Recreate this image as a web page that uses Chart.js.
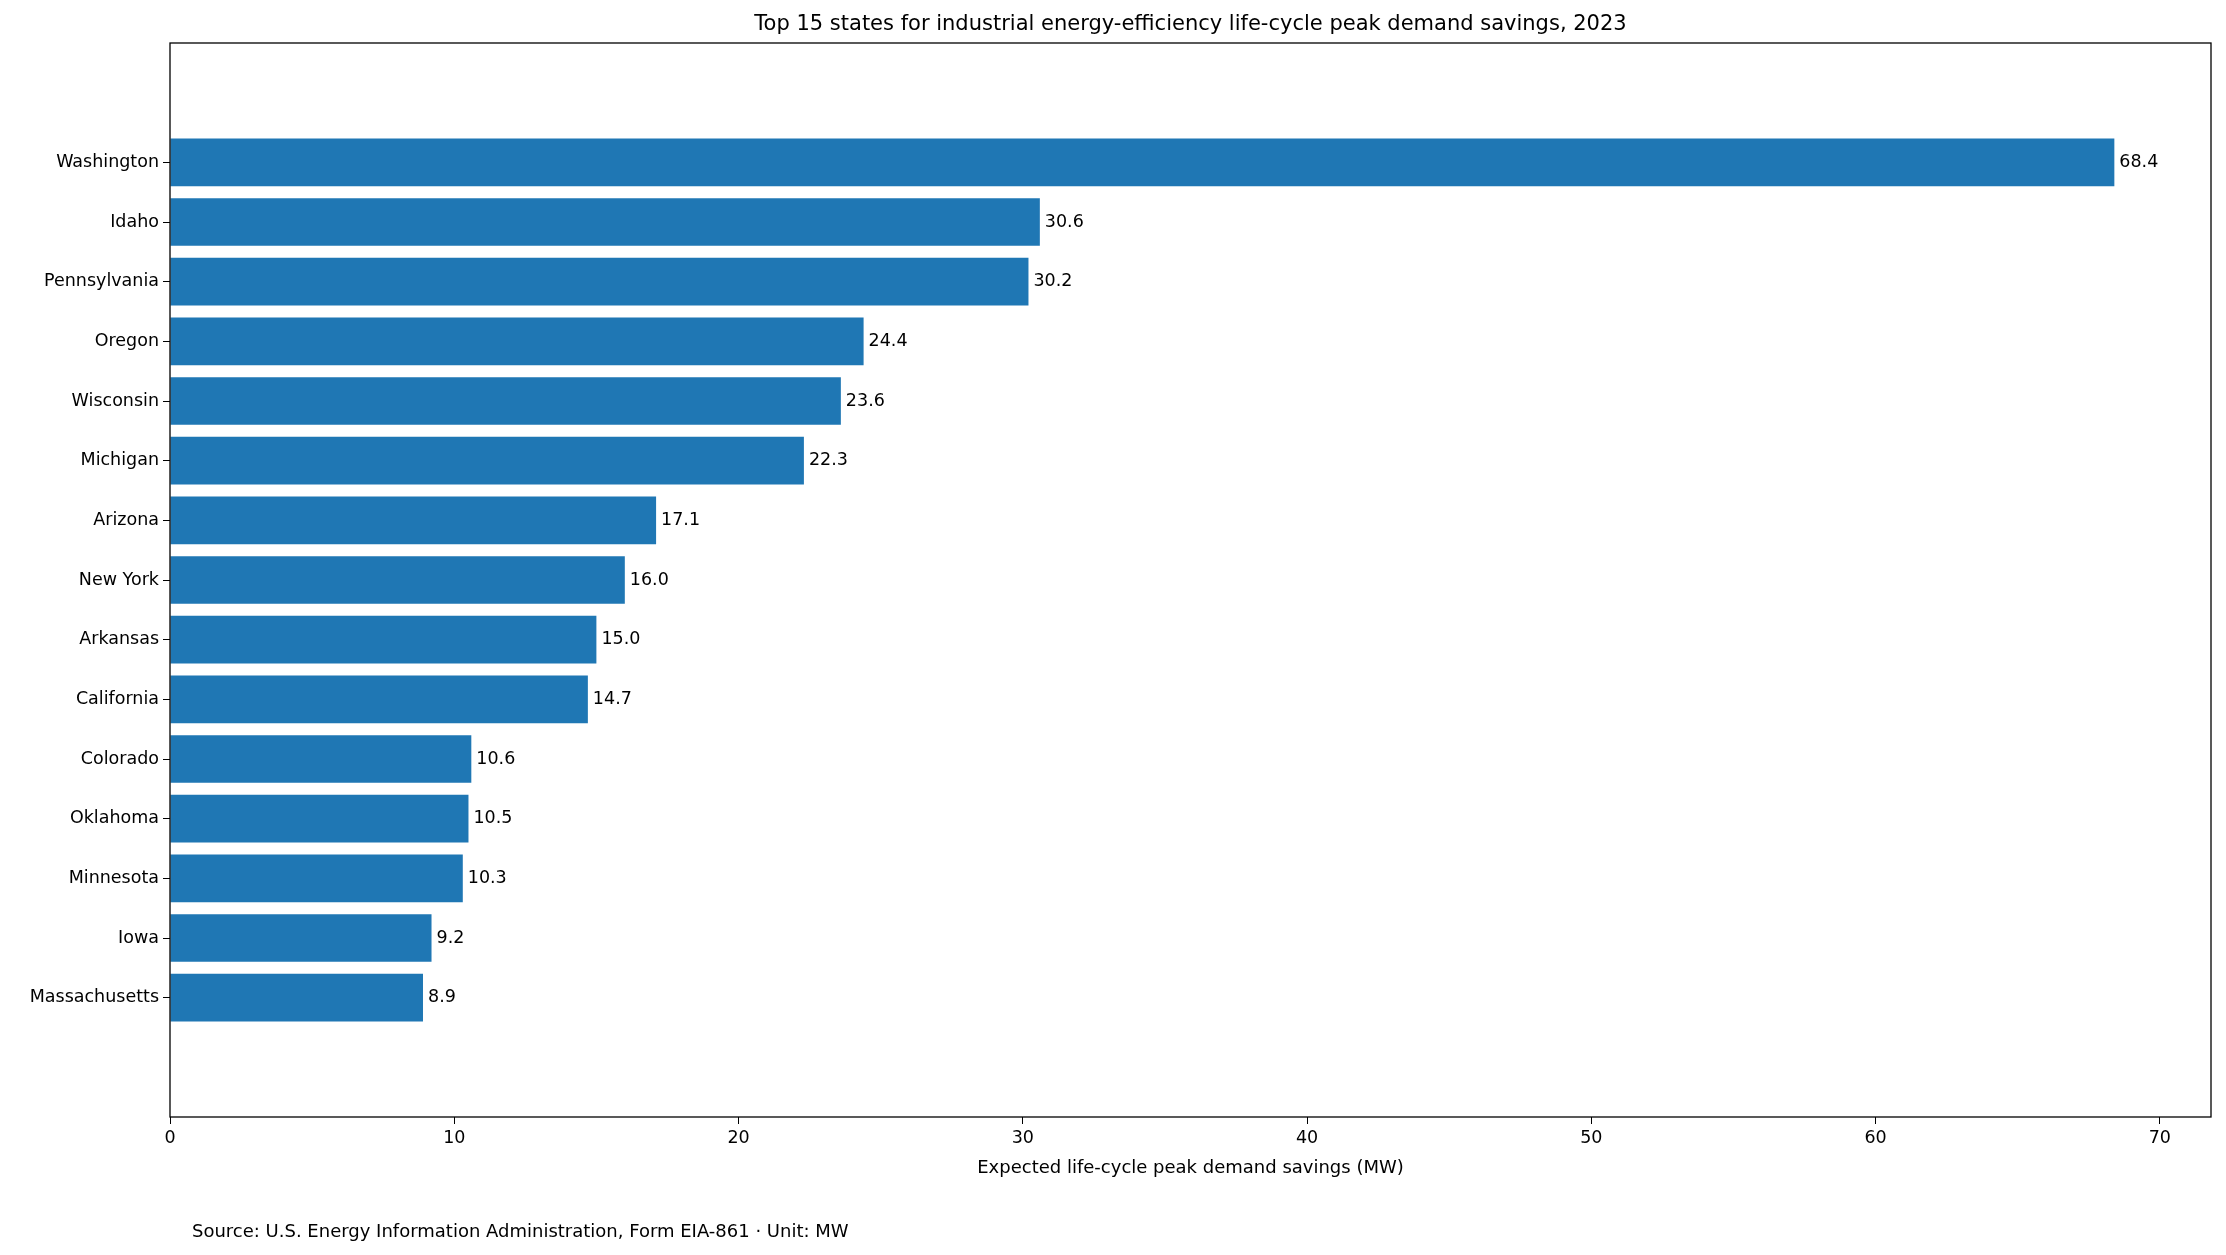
<!DOCTYPE html>
<html><head><meta charset="utf-8">
<script src="https://cdn.jsdelivr.net/npm/chart.js@4/dist/chart.umd.min.js"></script>
<style>html,body{margin:0;padding:0;background:#fff}#w{width:2226px;height:1255px}</style>
</head><body><div id="w"><canvas id="c"></canvas></div>
<script>
const states = ["Washington","Idaho","Pennsylvania","Oregon","Wisconsin","Michigan","Arizona","New York","Arkansas","California","Colorado","Oklahoma","Minnesota","Iowa","Massachusetts"];
const savings = [68.4,30.6,30.2,24.4,23.6,22.3,17.1,16.0,15.0,14.7,10.6,10.5,10.3,9.2,8.9];
const xTicks = [0,10,20,30,40,50,60,70];
const titleText = "Top 15 states for industrial energy-efficiency life-cycle peak demand savings, 2023";
const xTitle = "Expected life-cycle peak demand savings (MW)";
const sourceText = "Source: U.S. Energy Information Administration, Form EIA-861 · Unit: MW";
const F = "'DejaVu Sans', sans-serif";

const deco = {
  id:'deco',
  afterDatasetsDraw(ch){
    const {ctx, chartArea:a} = ch;
    ctx.save();
    ctx.fillStyle='#000'; ctx.font='17.5px '+F; ctx.textBaseline='middle'; ctx.textAlign='left';
    const meta = ch.getDatasetMeta(0);
    meta.data.forEach((b,i)=>{ ctx.fillText(savings[i].toFixed(1), b.x+5, b.y); });
    ctx.strokeStyle='#000'; ctx.lineWidth=1.3;
    ctx.strokeRect(a.left, a.top, a.right-a.left, a.bottom-a.top);
    ctx.textAlign='center'; ctx.textBaseline='middle';
    ctx.font='21px '+F; ctx.fillText(titleText, (a.left+a.right)/2, 25);
    ctx.font='18px '+F; ctx.fillText(xTitle, (a.left+a.right)/2, 1168);
    ctx.textAlign='left'; ctx.fillText(sourceText, 192, 1232);
    ctx.restore();
  }
};

new Chart(document.getElementById('c'), {
  type:'bar',
  data:{ datasets:[{ data: savings.map((v,i)=>({x:v,y:i})), backgroundColor:'#1f77b4', barPercentage:0.8, categoryPercentage:1.0 }]},
  options:{
    indexAxis:'y', responsive:true, maintainAspectRatio:false, animation:false,
    layout:{padding:{top:43,right:15,left:0,bottom:0}},
    plugins:{legend:{display:false}, tooltip:{enabled:false}},
    scales:{
      x:{ type:'linear', min:0, max:71.8,
        afterBuildTicks(s){ s.ticks = xTicks.map(v=>({value:v})); },
        afterFit(s){ s.height = 138; },
        grid:{drawOnChartArea:false, drawTicks:true, tickLength:7, color:'#000', offset:false},
        border:{display:false},
        ticks:{color:'#000', font:{size:17.5, family:F}, padding:4, maxRotation:0}
      },
      y:{ type:'linear', reverse:true, offset:false,
        afterDataLimits(s){ s.min=-0.64; s.max=14.64; },
        afterBuildTicks(s){ s.ticks = states.map((_,i)=>({value:i})); },
        afterFit(s){ s.width = 170; },
        grid:{drawOnChartArea:false, drawTicks:true, tickLength:7, color:'#000', offset:false},
        border:{display:false},
        ticks:{color:'#000', font:{size:17.5, family:F}, padding:4, callback:(v)=>states[v]??''}
      }
    }
  },
  plugins:[deco]
});
</script></body></html>
